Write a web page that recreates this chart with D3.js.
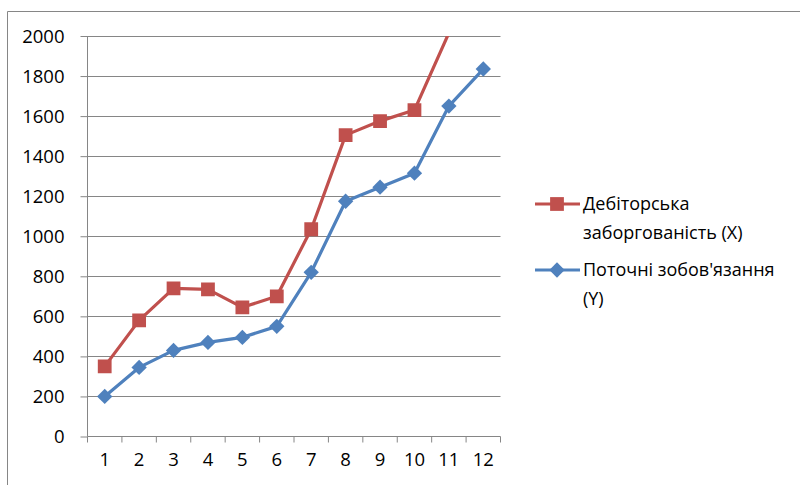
<!DOCTYPE html>
<html><head><meta charset="utf-8">
<script src="https://cdn.jsdelivr.net/npm/d3@7"></script>
<style>body{margin:0;background:#fff}svg{display:block}text{font-family:"Open Sans","Noto Sans",sans-serif;fill:#000}</style>
</head><body><svg id="c" width="800" height="485"></svg>
<script>
const categories = ["1","2","3","4","5","6","7","8","9","10","11","12"];
const seriesX = [350, 580, 740, 735, 645, 700, 1035, 1505, 1575, 1630, 2015, 2300];
const seriesY = [200, 345, 430, 470, 495, 550, 820, 1175, 1245, 1315, 1650, 1835];
const yTicks = [0, 200, 400, 600, 800, 1000, 1200, 1400, 1600, 1800, 2000];
const seriesNames = [["Дебіторська", "заборгованість (X)"], ["Поточні зобов'язання", "(Y)"]];

const svg = d3.select("#c");
const L = 87.5, R = 500.5, T = 36, B = 436.5;
const x = d3.scaleBand().domain(categories).range([L, R]);
const y = d3.scaleLinear().domain([0, 2000]).range([B, T]);
const grid = "#868686";
const FS = 18.5;

// outer frame
svg.append("path").attr("d", "M7.5,485 V11.5 H800").attr("fill", "none").attr("stroke", grid).attr("stroke-width", 1);

// gridlines
svg.append("g").selectAll("line").data(yTicks.filter(d => d > 0)).join("line")
  .attr("x1", L).attr("x2", R).attr("y1", d => Math.round(y(d)) + 0.5).attr("y2", d => Math.round(y(d)) + 0.5)
  .attr("stroke", grid).attr("stroke-width", 1);

// y axis
const ya = svg.append("g").attr("transform", `translate(${L},0)`)
  .call(d3.axisLeft(y).tickValues(yTicks).tickFormat(d3.format("d")).tickSize(7).tickPadding(16));
ya.select(".domain").attr("stroke", grid).attr("d", `M0,${T}V${B}`);
ya.selectAll(".tick line").attr("stroke", grid);
ya.selectAll(".tick text").attr("font-size", FS).attr("fill", "#000").attr("dy", "0.35em");

// x axis
const xa = svg.append("g").attr("transform", `translate(0,${B})`)
  .call(d3.axisBottom(x).tickSize(0).tickPadding(23));
xa.select(".domain").attr("stroke", grid).attr("d", `M${L},0H${R}`);
xa.selectAll(".tick text").attr("font-size", FS).attr("fill", "#000").attr("dy", "0.35em");
xa.append("g").selectAll("line").data(d3.range(categories.length + 1)).join("line")
  .attr("x1", i => L + i * x.step()).attr("x2", i => L + i * x.step())
  .attr("y1", 0).attr("y2", 6).attr("stroke", grid);

svg.append("clipPath").attr("id", "clip").append("rect")
  .attr("x", L - 20).attr("y", T).attr("width", R - L + 40).attr("height", B - T + 20);

const cx = d => x(d) + x.bandwidth() / 2;
const line = d3.line().x((d, i) => cx(categories[i])).y(d => y(d));
const plot = svg.append("g").attr("clip-path", "url(#clip)");

const red = "#C0504D", blue = "#4F81BD";
plot.append("path").datum(seriesX).attr("d", line).attr("fill", "none").attr("stroke", red).attr("stroke-width", 3.2).attr("stroke-linejoin", "round");
plot.append("path").datum(seriesY).attr("d", line).attr("fill", "none").attr("stroke", blue).attr("stroke-width", 3.2).attr("stroke-linejoin", "round");

const sq = d3.symbol().type(d3.symbolSquare).size(190);
const dm = d3.symbol().type(d3.symbolDiamond2).size(150);
plot.selectAll(".mx").data(seriesX.filter(v => v <= 2000)).join("path")
  .attr("transform", (d, i) => `translate(${cx(categories[i])},${y(d)})`).attr("d", sq).attr("fill", red);
plot.selectAll(".my").data(seriesY).join("path")
  .attr("transform", (d, i) => `translate(${cx(categories[i])},${y(d)})`).attr("d", dm).attr("fill", blue);

// legend
const legY = [204, 270];
const cols = [red, blue];
const lg = svg.append("g");
legY.forEach((ly, k) => {
  lg.append("line").attr("x1", 535).attr("x2", 580).attr("y1", ly).attr("y2", ly).attr("stroke", cols[k]).attr("stroke-width", 3.2);
  lg.append("path").attr("transform", `translate(557,${ly})`).attr("d", k === 0 ? sq : dm).attr("fill", cols[k]);
  seriesNames[k].forEach((t, j) => {
    lg.append("text").attr("x", 583).attr("y", ly + j * 29).attr("dy", "0.35em").attr("font-size", 18).text(t);
  });
});
</script></body></html>
